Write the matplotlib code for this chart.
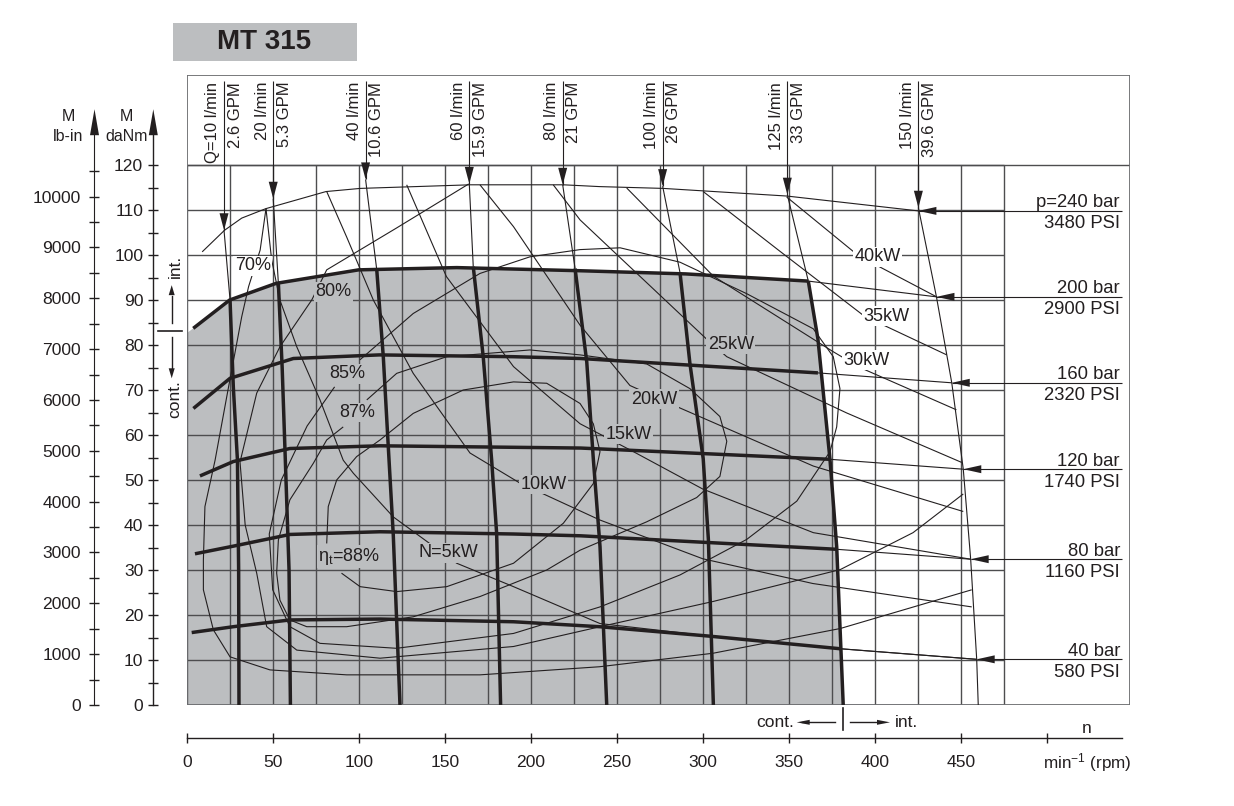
import numpy as np
import matplotlib.pyplot as plt
from matplotlib.patches import Polygon, Rectangle
from matplotlib.ticker import FixedLocator

plt.rcParams['font.family'] = ['Liberation Sans', 'DejaVu Sans']
plt.rcParams['mathtext.fontset'] = 'custom'
plt.rcParams['mathtext.rm'] = 'Liberation Sans'
plt.rcParams['mathtext.it'] = 'Liberation Sans:italic'

INK = '#231f20'
SHADE = '#bcbec0'
GRIDC = '#4d4d4f'
FRAMEC = '#6d6e71'

# ---------------- data: n in rpm, M in daNm ----------------
rpm_grid = np.arange(0, 476, 25)
torque_grid = np.arange(0, 121, 10)

# pressure lines (thick = cont. part, thin = rest up to the arrow)
p240_n = [9, 22, 32, 46, 81, 101, 165, 219, 240, 277, 349, 425.4]
p240_M = [100.7, 105.5, 108.2, 110.3, 114.1, 114.8, 115.6, 115.6, 115.2, 114.8, 113.1, 109.8]
p200_n = [3.8, 25, 52, 100, 157, 229, 290, 361.4]
p200_M = [83.7, 90, 93.7, 96.7, 97.2, 96.5, 95.8, 94.2]
p160_n = [3.9, 25.2, 62, 112, 190, 229, 367]
p160_M = [65.9, 72.6, 77, 77.8, 77.4, 77, 73.8]
p120_n = [7.7, 27.1, 60, 112.4, 229, 374]
p120_M = [50.9, 54.1, 57, 57.6, 57.1, 54.6]
p80_n = [4.8, 27.1, 60, 112.4, 190, 229, 378]
p80_M = [33.6, 35.3, 37.9, 38.5, 38, 37.6, 34.6]
p40_n = [2.9, 27.1, 60, 112.4, 190, 240, 304, 380]
p40_M = [16.1, 17.4, 18.9, 19.1, 18.5, 17.4, 15.3, 12.5]

p_labels = ['p=240 bar', '200 bar', '160 bar', '120 bar', '80 bar', '40 bar']
psi_labels = ['3480 PSI', '2900 PSI', '2320 PSI', '1740 PSI', '1160 PSI', '580 PSI']
p_tip_n = [425.4, 435.9, 444.8, 451.5, 455.8, 459.3]
p_tip_M = [109.8, 90.7, 71.6, 52.4, 32.4, 10.15]

# flow lines
q_lmin = ['Q=10 l/min', '20 l/min', '40 l/min', '60 l/min', '80 l/min',
          '100 l/min', '125 l/min', '150 l/min']
q_gpm = ['2.6 GPM', '5.3 GPM', '10.6 GPM', '15.9 GPM', '21 GPM',
         '26 GPM', '33 GPM', '39.6 GPM']
q_tip_n = [21.7, 50.3, 104, 164.3, 218.6, 276.7, 349.2, 425.4]
q_tip_M = [105.5, 112.5, 116.8, 115.8, 115.6, 115.3, 113.4, 110.5]
q10_n = [25.2, 27.1, 29.5, 30.2, 30.4]
q10_M = [90, 70.7, 54.4, 30, 0]
q20_n = [53.3, 55.5, 57.2, 59.5, 60.3]
q20_M = [93.7, 75, 56, 30, 0]
q40_n = [110.5, 114.3, 117.2, 120.1, 124]
q40_M = [96.7, 77.4, 57.4, 37.8, 0]
q60_n = [166.6, 172.4, 177.3, 180.2, 182.5]
q60_M = [97.4, 77.4, 54.4, 38.1, 0]
q80_n = [225.8, 232.6, 236.4, 240.3, 244.2]
q80_M = [97, 76.2, 54.7, 35.2, 0]
q100_n = [286.8, 292.6, 300.3, 303.3, 306.2]
q100_M = [96.1, 75.8, 54.7, 36.8, 0]
q125_n = [361.4, 367, 374, 377.9, 381.7]
q125_M = [94.2, 81.3, 54.6, 35.2, 0]
q150_n = [425.4, 435.9, 444.8, 451.5, 455.8, 459.3, 460.2]
q150_M = [110.5, 90.7, 71.6, 52.4, 32.4, 10.15, 0]
shade_left_M = 82.6

# power lines
kw5_n = [46.1, 49.4, 54.2, 64, 77.5, 91, 96.9, 120.1, 157, 190, 240.3, 300, 380, 459.3]
kw5_M = [110.3, 98.9, 90, 79.6, 67.8, 54.4, 51.5, 41.8, 31.5, 26.3, 18.1, 15.5, 12.5, 10.15]
kw10_n = [81.4, 93, 108.5, 131.7, 164.7, 193.8, 240.3, 300, 364, 456.4]
kw10_M = [114.1, 104, 90, 73.7, 56, 49.3, 41.1, 32.5, 27, 21.8]
kw15_n = [127.9, 151, 190, 228.7, 259.7, 300, 364.3, 455.8]
kw15_M = [115.6, 95.2, 75.2, 62.5, 56.3, 48, 38.3, 32.4]
kw20_n = [170.5, 190, 228.7, 257.7, 286.8, 364.3, 451.5]
kw20_M = [115.6, 106.3, 84.4, 71, 66, 53.1, 43]
kw25_n = [213.1, 228.7, 302.3, 314, 383.7, 450.6]
kw25_M = [115.6, 107.8, 81.3, 77.4, 64.9, 53.9]
kw30_n = [255.8, 306.2, 375.9, 391.4, 447.5]
kw30_M = [114.9, 95.3, 78.5, 75, 65.6]
kw35_n = [300.3, 345, 393, 403, 441.9]
kw35_M = [114.1, 100.8, 86.7, 84.8, 77.8]
kw40_n = [348.8, 387.5, 401.2, 436]
kw40_M = [112.9, 100.8, 97.7, 90.7]

# efficiency contours
eff70_n = [46.1, 42.7, 36, 32, 24, 16.5, 10.6, 9.7, 9.7, 15.5, 25.2, 48.4, 93, 170.5, 240, 306, 380, 456.4]
eff70_M = [110.3, 101.1, 93, 86.3, 70, 54.4, 44.1, 32.2, 25.6, 16.7, 10.7, 7.8, 6.7, 6.7, 8.5, 11.5, 17, 25.6]
eff80_n = [164, 122, 81.4, 72.7, 54.2, 40.7, 31, 34, 40.7, 46.5, 64, 112.4, 190, 240.3, 306, 380, 422.3, 451.5]
eff80_M = [115.8, 106, 96.7, 90, 79.6, 69.3, 54, 40, 29.3, 17.4, 12.2, 10.4, 13, 17.4, 23, 30.1, 38.3, 46.9]
eff85_n = [100.7, 131.7, 170.5, 199.6, 228.7, 252, 286.8, 325.6, 364.3, 375.9, 379.8, 377.9, 374, 354.7,
           325.6, 286.8, 240.3, 190, 122, 77.5, 60, 50, 48, 55, 70, 86]
eff85_M = [76.7, 87, 95.9, 99.6, 101.2, 101.6, 98.4, 91.4, 83.6, 77.4, 70.3, 61.8, 56.3, 45.3,
           36.8, 28.9, 21.8, 15.9, 12.6, 13.7, 17.4, 25.6, 38, 50, 62, 70.7]
eff87_n = [104.7, 122.1, 151.2, 199.6, 228.7, 267.4, 292.6, 310, 314, 310, 296.5, 267.4, 228.7, 209.3,
           170.5, 131.7, 93, 69.8, 60, 54.2, 52.3, 53.3, 60, 73.6, 81.4, 91]
eff87_M = [67.8, 73.7, 77.4, 78.9, 77.8, 75.8, 70.3, 64.1, 58.6, 50.8, 46.1, 40.7, 34.4, 30,
           24.1, 19.6, 17.4, 17.4, 18.9, 23.3, 29.3, 36.7, 45.6, 53.7, 58.9, 61.8]
eff88_n = [81.4, 82.3, 87.2, 98.8, 112.4, 131.7, 160.8, 190, 209.3, 228.7, 236.4, 240.3, 236.4,
           219, 190, 151.2, 122.1, 100.8, 90]
eff88_M = [35.9, 44.1, 50, 55.2, 58.9, 64.8, 70, 71.8, 71.5, 67, 62.5, 56.3, 49.2,
           40.4, 31.5, 26.3, 25.2, 26.3, 29.3]

# labels on the curves: text, n, M, on shaded area?
curve_labels = [
    ('70%', 38.4, 97.6, False), ('80%', 85.2, 91.8, True), ('85%', 93.2, 73.6, True),
    ('87%', 99.4, 65.0, True), (r'$\mathrm{\eta}_\mathrm{t}$=88%', 94.4, 33.0, True),
    ('N=5kW', 152.1, 33.8, True), ('10kW', 207.3, 49.0, True), ('15kW', 257.0, 60.2, True),
    ('20kW', 271.7, 68.0, True), ('25kW', 316.4, 80.1, True), ('30kW', 395.3, 76.6, False),
    ('35kW', 406.6, 86.4, False), ('40kW', 401.5, 99.6, False),
]

# ---------------- layout ----------------
PXN = 1.72   # pixels per rpm
PXM = 4.5    # pixels per daNm
XMAX = 942.8 / PXN
YMAX = 140

fig = plt.figure(figsize=(12.34, 8.06), dpi=100)
ax = fig.add_axes([186.7 / 1234, 101 / 806, 942.8 / 1234, 630 / 806])
ax.set_xlim(0, XMAX)
ax.set_ylim(0, YMAX)


def head(x, y, direction, length, width):
    # filled arrow head, tip at (x, y); sizes in pixels
    if direction in ('left', 'right'):
        L, W = length / PXN, width / 2 / PXM
        s = 1 if direction == 'left' else -1
        pts = [(x, y), (x + s * L, y - W), (x + s * L, y + W)]
    else:
        L, W = length / PXM, width / 2 / PXN
        s = 1 if direction == 'down' else -1
        pts = [(x, y), (x - W, y + s * L), (x + W, y + s * L)]
    ax.add_patch(Polygon(pts, closed=True, fc=INK, ec='none', clip_on=False, zorder=7))


# shaded continuous area
shade_n = [0, 0] + p200_n + q125_n[1:]
shade_M = [0, shade_left_M] + p200_M + q125_M[1:]
ax.fill(shade_n, shade_M, color=SHADE, lw=0, zorder=1)

# grid and frame
ax.vlines(rpm_grid, 0, 120, color=GRIDC, lw=1.0, zorder=2)
ax.hlines(torque_grid, 0, 475, color=GRIDC, lw=1.0, zorder=2)
ax.hlines(120, 0, XMAX, color=GRIDC, lw=1.0, zorder=2)
ax.add_patch(Rectangle((0, 0), XMAX, YMAX, fill=False, ec=FRAMEC, lw=1.3, zorder=3))

thin = dict(color=INK, lw=0.8, zorder=4, solid_capstyle='butt')
thick = dict(color=INK, lw=2.5, zorder=5, solid_capstyle='butt')

# efficiency and power lines
for n, M in [(eff70_n, eff70_M), (eff80_n, eff80_M), (eff85_n, eff85_M),
             (eff87_n, eff87_M), (eff88_n, eff88_M),
             (kw5_n, kw5_M), (kw10_n, kw10_M), (kw15_n, kw15_M), (kw20_n, kw20_M),
             (kw25_n, kw25_M), (kw30_n, kw30_M), (kw35_n, kw35_M), (kw40_n, kw40_M)]:
    ax.plot(n, M, **thin)

# pressure lines
ax.plot(p240_n, p240_M, **thin)
for i, (n, M) in enumerate([(p200_n, p200_M), (p160_n, p160_M), (p120_n, p120_M),
                            (p80_n, p80_M), (p40_n, p40_M)]):
    ax.plot(n, M, **thick)
    ax.plot([n[-1], p_tip_n[i + 1]], [M[-1], p_tip_M[i + 1]], **thin)

label_x = 542.6
for lab, psi, n, M in zip(p_labels, psi_labels, p_tip_n, p_tip_M):
    ax.plot([n, 543.8], [M, M], **thin)
    head(n, M, 'left', 18, 8)
    ax.text(label_x, M + 0.8, lab, ha='right', va='baseline', fontsize=13.3, color=INK)
    ax.text(label_x, M - 1.0, psi, ha='right', va='top', fontsize=13.3, color=INK)

# flow lines
q_thick = [(q10_n, q10_M), (q20_n, q20_M), (q40_n, q40_M), (q60_n, q60_M),
           (q80_n, q80_M), (q100_n, q100_M), (q125_n, q125_M)]
for i in range(8):
    tn, tM = q_tip_n[i], q_tip_M[i]
    ax.plot([tn, tn], [138.6, tM], **thin)
    head(tn, tM, 'down', 17, 9)
    if i < 7:
        n, M = q_thick[i]
        ax.plot([tn, n[0]], [tM, M[0]], **thin)
        ax.plot(n, M, **thick)
    else:
        ax.plot(q150_n, q150_M, **thin)
    ax.text(tn - 6.5, 138.5, q_lmin[i], rotation=90, ha='center', va='top',
            fontsize=12, color=INK)
    ax.text(tn + 6.5, 138.5, q_gpm[i], rotation=90, ha='center', va='top',
            fontsize=12, color=INK)

for txt, n, M, on_shade in curve_labels:
    ax.text(n, M, txt, ha='center', va='center', fontsize=13, color=INK, zorder=6,
            bbox=dict(fc=SHADE if on_shade else 'white', ec='none', pad=1.0))

# ---------------- axes ----------------
for s in ('top', 'right'):
    ax.spines[s].set_visible(False)
ax.spines['left'].set_position(('axes', (153.3 - 186.7) / 942.8))
ax.spines['left'].set_bounds(0, 127)
ax.spines['bottom'].set_position(('axes', -(738.3 - 705) / 630))
ax.spines['bottom'].set_bounds(0, 543.6)
for s in ('left', 'bottom'):
    ax.spines[s].set_color(INK)
    ax.spines[s].set_linewidth(1.0)

ax.set_yticks(np.arange(0, 121, 10))
ax.yaxis.set_minor_locator(FixedLocator(np.arange(5, 120, 10)))
ax.set_xticks(np.arange(0, 501, 50))
ax.set_xticklabels([str(v) if v < 500 else '' for v in range(0, 501, 50)])
ax.tick_params(axis='y', which='both', direction='inout', length=7.5, width=1,
               colors=INK, labelsize=12.6, pad=3.5)
ax.tick_params(axis='x', which='both', direction='inout', length=7.5, width=1,
               colors=INK, labelsize=12.6, pad=8)

LBIN = 88.507
sec = ax.secondary_yaxis((94.5 - 186.7) / 942.8,
                         functions=(lambda m: m * LBIN, lambda l: l / LBIN))
sec.set_yticks(np.arange(0, 10001, 1000))
sec.yaxis.set_minor_locator(FixedLocator(np.arange(500, 10501, 1000)))
sec.tick_params(axis='y', which='both', direction='inout', length=7.5, width=1,
                colors=INK, labelsize=12.6, pad=6)
sec.spines['left'].set_bounds(0, 127 * LBIN)
sec.spines['left'].set_color(INK)

head((153.3 - 186.7) / PXN, 132.4, 'up', 26, 9)
head((94.5 - 186.7) / PXN, 132.4, 'up', 26, 9)

ax.text(-69, 130.7, 'M', ha='center', va='center', fontsize=11.5, color=INK)
ax.text(-69, 126.3, 'lb-in', ha='center', va='center', fontsize=11.5, color=INK)
ax.text(-34.9, 130.7, 'M', ha='center', va='center', fontsize=11.5, color=INK)
ax.text(-34.9, 126.3, 'daNm', ha='center', va='center', fontsize=11.5, color=INK)

# cont./int. markers on the torque axis
mx = (171.7 - 186.7) / PXN
ax.plot([(158.3 - 186.7) / PXN, (181.7 - 186.7) / PXN], [83.1, 83.1], color=INK, lw=1.2, clip_on=False)
ax.plot([mx, mx], [84.8, 91.0], color=INK, lw=1.0, clip_on=False)
head(mx, 93.3, 'up', 10, 6)
ax.plot([mx, mx], [81.8, 75.0], color=INK, lw=1.0, clip_on=False)
head(mx, 72.6, 'down', 10, 6)
ax.text(-6.8, 97.4, 'int.', rotation=90, ha='center', va='center', fontsize=12.5, color=INK)
ax.text(-6.8, 68.0, 'cont.', rotation=90, ha='center', va='center', fontsize=12.5, color=INK)

# cont./int. markers on the speed axis
ax.plot([381.4, 381.4], [-0.7, -5.6], color=INK, lw=1.2, clip_on=False)
ax.plot([(835 - 186.7) / PXN, 358], [-3.85, -3.85], color=INK, lw=1.0, clip_on=False)
head((796.7 - 186.7) / PXN, -3.85, 'left', 13, 5)
ax.plot([(850 - 186.7) / PXN, 402], [-3.85, -3.85], color=INK, lw=1.0, clip_on=False)
head((890 - 186.7) / PXN, -3.85, 'right', 13, 5)
ax.text((794 - 186.7) / PXN, -3.85, 'cont.', ha='right', va='center', fontsize=12.5, color=INK)
ax.text((895 - 186.7) / PXN, -3.85, 'int.', ha='left', va='center', fontsize=12.5, color=INK)
ax.text(523.4, -5.3, 'n', ha='center', va='center', fontsize=12.5, color=INK)
ax.text(523.4, -12.9, r'min$^{\mathregular{-1}}$ (rpm)', ha='center', va='center', fontsize=12.3, color=INK)

# title box
fig.add_artist(Rectangle((173 / 1234, 1 - 61 / 806), 184 / 1234, 38 / 806,
                         transform=fig.transFigure, fc=SHADE, ec='none'))
fig.text(264 / 1234, 1 - 42 / 806, 'MT 315', ha='center', va='center',
         fontsize=20, fontweight='bold', color=INK)

fig.savefig('out.png', dpi=100)
